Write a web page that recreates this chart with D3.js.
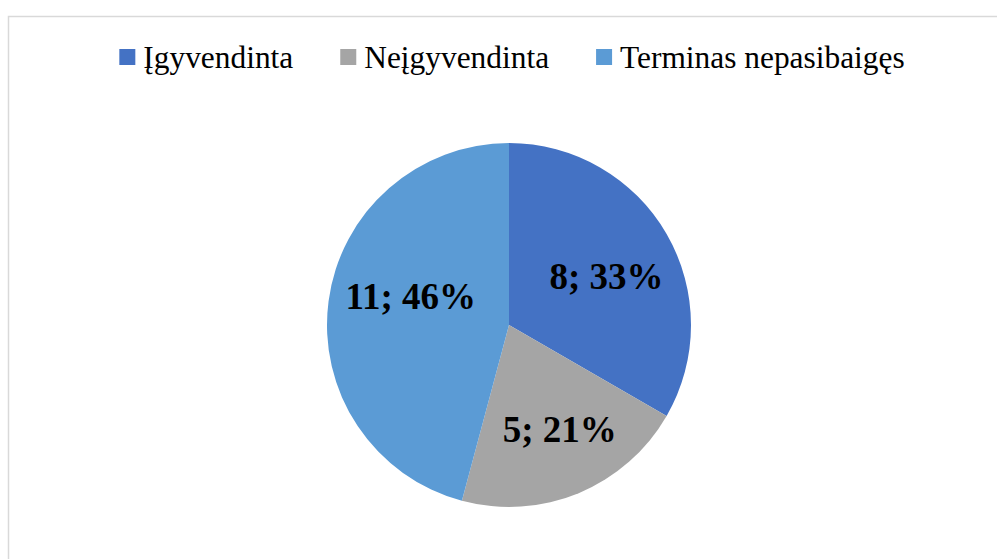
<!DOCTYPE html>
<html>
<head>
<meta charset="utf-8">
<script src="https://cdn.jsdelivr.net/npm/d3@7"></script>
<style>
  html, body { margin: 0; padding: 0; background: #fff; overflow: hidden; }
</style>
</head>
<body>
<div id="chart"></div>
<script>
const categories = ["Įgyvendinta", "Neįgyvendinta", "Terminas nepasibaigęs"];
const counts = [8, 5, 11];
const percents = ["33%", "21%", "46%"];
const colors = ["#4472C4", "#A5A5A5", "#5B9BD5"];

const W = 997, H = 559;
const CX = 509, CY = 325, R = 182;

const svg = d3.select("#chart").append("svg")
  .attr("width", W)
  .attr("height", H);

// chart frame (runs off the right/bottom edge like the screenshot)
svg.append("rect")
  .attr("x", 8.5).attr("y", 16.5)
  .attr("width", W + 20).attr("height", H + 20)
  .attr("fill", "#fff")
  .attr("stroke", "#d9d9d9")
  .attr("stroke-width", 1.5);

const data = categories.map((c, i) => ({ name: c, value: counts[i], pct: percents[i], color: colors[i] }));

const pie = d3.pie().sort(null).value(d => d.value);
const arc = d3.arc().innerRadius(0).outerRadius(R);
const labelArc = d3.arc().innerRadius(R * 0.6).outerRadius(R * 0.6);

const g = svg.append("g").attr("transform", `translate(${CX},${CY})`);
const arcs = pie(data);

g.selectAll("path")
  .data(arcs)
  .join("path")
    .attr("d", arc)
    .attr("fill", d => d.data.color);

// small nudges to mimic Excel's "best fit" label spots
const nudge = [[3, 6], [9, 4], [10, -14]];

g.selectAll("text.lbl")
  .data(arcs)
  .join("text")
    .attr("class", "lbl")
    .attr("transform", (d, i) => {
      const [x, y] = labelArc.centroid(d);
      return `translate(${x + nudge[i][0]},${y + nudge[i][1]})`;
    })
    .attr("text-anchor", "middle")
    .attr("dy", "0.33em")
    .style("font-family", "'Liberation Serif', 'Times New Roman', serif")
    .style("font-weight", "bold")
    .style("font-size", "37px")
    .attr("fill", "#000")
    .text(d => `${d.data.value}; ${d.data.pct}`);

// legend
const legend = svg.append("g");
const items = legend.selectAll("g")
  .data(data)
  .join("g");

items.append("rect")
  .attr("width", 16).attr("height", 16)
  .attr("y", 49)
  .attr("fill", d => d.color);

items.append("text")
  .attr("x", 24)
  .attr("y", 68)
  .style("font-family", "'Liberation Serif', 'Times New Roman', serif")
  .style("font-size", "31.4px")
  .attr("fill", "#000")
  .text(d => d.name);

let xpos = 0;
const gap = 47;
items.each(function () {
  const w = d3.select(this).select("text").node().getComputedTextLength();
  d3.select(this).attr("transform", `translate(${xpos},0)`);
  xpos += 24 + w + gap;
});
const total = xpos - gap;
legend.attr("transform", `translate(${512 - total / 2},0)`);
</script>
</body>
</html>
